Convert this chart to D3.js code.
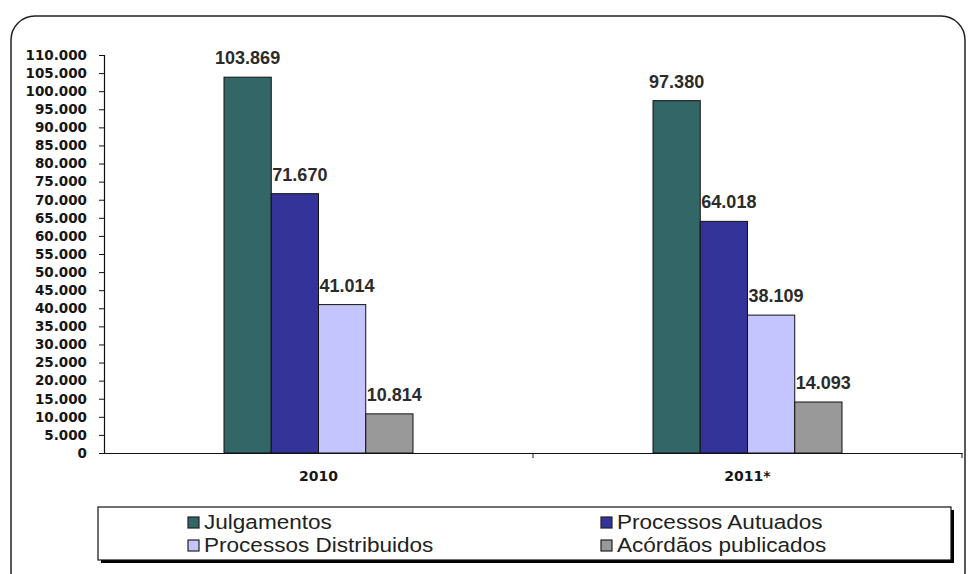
<!DOCTYPE html>
<html>
<head>
<meta charset="utf-8">
<script src="https://cdn.jsdelivr.net/npm/d3@7"></script>
<style>
  html, body { margin: 0; padding: 0; background: #fff; }
  svg { display: block; }
</style>
</head>
<body>
<script>
// Annual figures for 2010 and 2011*
const years = ["2010", "2011*"];
const seriesNames = ["Julgamentos", "Processos Autuados", "Processos Distribuidos", "Acórdãos publicados"];
const julgamentos = [103869, 97380];
const processosAutuados = [71670, 64018];
const processosDistribuidos = [41014, 38109];
const acordaosPublicados = [10814, 14093];
const seriesColors = ["#336666", "#333399", "#c4c4ff", "#999999"];
const legendLabels = ["Julgamentos", "Processos Autuados", "Processos Distribuidos", "Acórdãos publicados"];
const yTicks = d3.range(0, 110001, 5000);

const seriesValues = [julgamentos, processosAutuados, processosDistribuidos, acordaosPublicados];

const W = 968, H = 574;
const FONT = "Arial, 'Liberation Sans', sans-serif";
const AXIS_FONT = "'DejaVu Sans', Verdana, sans-serif";
const svg = d3.select("body").append("svg").attr("width", W).attr("height", H);

// outer rounded frame
svg.append("rect")
  .attr("x", 11).attr("y", 16).attr("width", 954).attr("height", 580)
  .attr("rx", 24).attr("ry", 24)
  .attr("fill", "#fff").attr("stroke", "#222").attr("stroke-width", 1.5);

const plot = { left: 104, right: 962, top: 55, bottom: 453 };

const y = d3.scaleLinear().domain([0, 110000]).range([plot.bottom, plot.top]);
const x0 = d3.scaleBand().domain(years).range([plot.left, plot.right]);
const x1 = d3.scaleBand().domain(seriesNames).range([0, x0.bandwidth()]).paddingOuter(2.54).paddingInner(0);

const fmt = v => d3.format(",")(v).replace(/,/g, ".");

// y axis
const yAxis = d3.axisLeft(y).tickValues(yTicks).tickSize(5).tickPadding(12).tickFormat(fmt);
const gy = svg.append("g").attr("transform", `translate(${plot.left},0)`).call(yAxis);
gy.select(".domain").attr("stroke", "#111").attr("stroke-width", 1.2);
gy.selectAll(".tick line").attr("stroke", "#111");
gy.selectAll(".tick text")
  .attr("font-family", AXIS_FONT)
  .attr("font-weight", "bold").attr("font-size", 13.5).attr("fill", "#161616");

// bars
const groups = svg.append("g").selectAll("g").data(years).join("g")
  .attr("transform", d => `translate(${x0(d)},0)`);

groups.each(function(year, yi) {
  const g = d3.select(this);
  seriesNames.forEach((s, si) => {
    const v = seriesValues[si][yi];
    g.append("rect")
      .attr("x", x1(s)).attr("y", y(v))
      .attr("width", x1.bandwidth()).attr("height", y(0) - y(v))
      .attr("fill", seriesColors[si]).attr("stroke", "#111").attr("stroke-width", 1);
    g.append("text")
      .attr("x", x1(s) + x1.bandwidth() / 2 + (si === 0 ? 0 : 5))
      .attr("y", y(v) - 13)
      .attr("text-anchor", "middle")
      .attr("font-family", FONT)
      .attr("font-weight", "bold").attr("font-size", 18).attr("fill", "#2b2b2b")
      .text(fmt(v));
  });
});

// x axis
const xAxis = d3.axisBottom(x0).tickSize(0).tickPadding(18);
const gx = svg.append("g").attr("transform", `translate(0,${plot.bottom})`).call(xAxis);
gx.select(".domain").attr("stroke", "#111").attr("stroke-width", 1.2);
gx.selectAll(".tick text")
  .attr("font-family", AXIS_FONT)
  .attr("font-weight", "bold").attr("font-size", 14).attr("fill", "#161616");
// category separators
const seps = [x0(years[1]), plot.right];
svg.append("g").selectAll("line").data(seps).join("line")
  .attr("x1", d => d).attr("x2", d => d)
  .attr("y1", plot.bottom).attr("y2", plot.bottom + 5)
  .attr("stroke", "#111");

// legend box with shadow
const lg = { x: 98, y: 507, w: 853, h: 53 };
svg.append("rect").attr("x", lg.x + 3).attr("y", lg.y + 3).attr("width", lg.w).attr("height", lg.h).attr("fill", "#000");
svg.append("rect").attr("x", lg.x).attr("y", lg.y).attr("width", lg.w).attr("height", lg.h)
  .attr("fill", "#fff").attr("stroke", "#111").attr("stroke-width", 1.2);

const legendPos = [
  { x: 188, y: 529 }, { x: 601, y: 529 },
  { x: 188, y: 552 }, { x: 601, y: 552 }
];
legendLabels.forEach((label, si) => {
  const p = legendPos[si];
  svg.append("rect").attr("x", p.x).attr("y", p.y - 12).attr("width", 11).attr("height", 11)
    .attr("fill", seriesColors[si]).attr("stroke", "#222").attr("stroke-width", 1.2);
  const t = svg.append("text").attr("x", p.x + 16).attr("y", p.y)
    .attr("font-family", FONT)
    .attr("font-size", 20.5).attr("fill", "#222")
    .text(label);
  // tall, slightly widened lettering
  const len = t.node().getComputedTextLength();
  t.attr("textLength", len * 1.1).attr("lengthAdjust", "spacingAndGlyphs");
});
</script>
</body>
</html>
